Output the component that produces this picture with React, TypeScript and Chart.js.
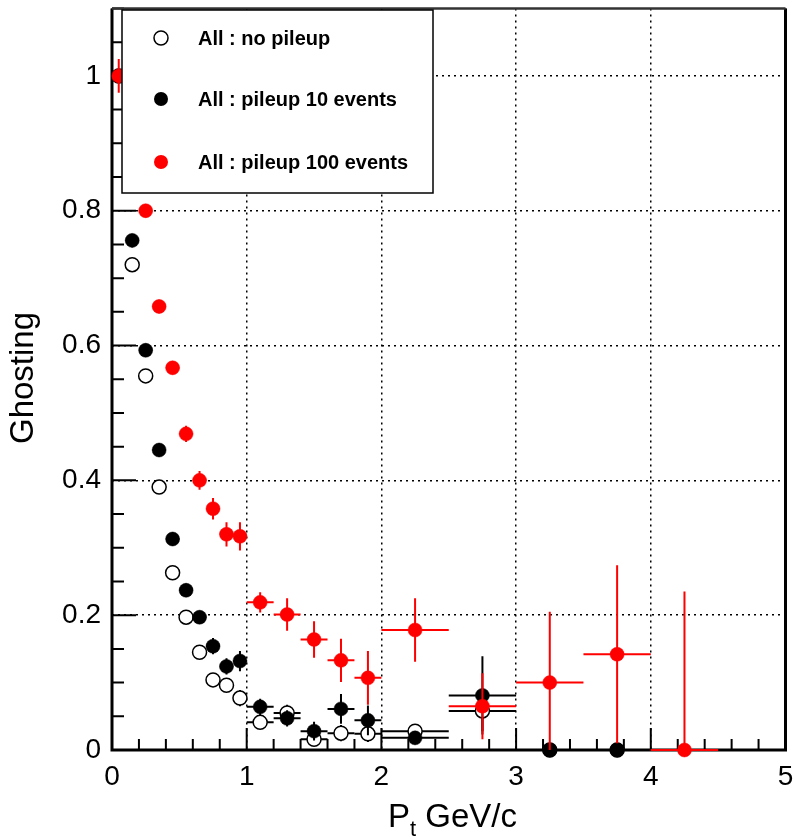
import React, { useEffect, useRef } from "react";
import { Chart, registerables } from "chart.js";

Chart.register(...registerables);

// ---- data ----
const noPileupX = [0.05, 0.15, 0.25, 0.35, 0.45, 0.55, 0.65, 0.75, 0.85, 0.95, 1.1, 1.3, 1.5, 1.7, 1.9, 2.25, 2.75, 3.25, 3.75];
const noPileupY = [1.0, 0.72, 0.555, 0.39, 0.263, 0.197, 0.145, 0.104, 0.096, 0.077, 0.041, 0.055, 0.016, 0.025, 0.024, 0.028, 0.058, 0, 0];
const noPileupXErr = [0.05, 0.05, 0.05, 0.05, 0.05, 0.05, 0.05, 0.05, 0.05, 0.05, 0.1, 0.1, 0.1, 0.1, 0.1, 0.25, 0.25, 0.25, 0.25];
const noPileupYErr = [0.01, 0.01, 0.01, 0.01, 0.01, 0.01, 0.01, 0.01, 0.01, 0.012, 0.01, 0.012, 0.01, 0.012, 0.012, 0.01, 0.03, 0, 0];

const pileup10X = [0.05, 0.15, 0.25, 0.35, 0.45, 0.55, 0.65, 0.75, 0.85, 0.95, 1.1, 1.3, 1.5, 1.7, 1.9, 2.25, 2.75, 3.25, 3.75];
const pileup10Y = [1.0, 0.756, 0.593, 0.445, 0.313, 0.237, 0.197, 0.154, 0.124, 0.132, 0.064, 0.047, 0.028, 0.061, 0.044, 0.018, 0.081, 0, 0];
const pileup10XErr = [0.05, 0.05, 0.05, 0.05, 0.05, 0.05, 0.05, 0.05, 0.05, 0.05, 0.1, 0.1, 0.1, 0.1, 0.1, 0.25, 0.25, 0.25, 0.25];
const pileup10YErr = [0.01, 0.01, 0.01, 0.01, 0.01, 0.01, 0.01, 0.012, 0.012, 0.015, 0.012, 0.012, 0.014, 0.022, 0.022, 0.01, 0.058, 0, 0];

const pileup100X = [0.05, 0.15, 0.25, 0.35, 0.45, 0.55, 0.65, 0.75, 0.85, 0.95, 1.1, 1.3, 1.5, 1.7, 1.9, 2.25, 2.75, 3.25, 3.75, 4.25];
const pileup100Y = [1.0, 0.9, 0.8, 0.658, 0.567, 0.469, 0.4, 0.358, 0.32, 0.317, 0.219, 0.201, 0.164, 0.133, 0.107, 0.178, 0.065, 0.1, 0.142, 0];
const pileup100XErr = [0.05, 0.05, 0.05, 0.05, 0.05, 0.05, 0.05, 0.05, 0.05, 0.05, 0.1, 0.1, 0.1, 0.1, 0.1, 0.25, 0.25, 0.25, 0.25, 0.25];
const pileup100YErr = [0.025, 0.015, 0.01, 0.01, 0.01, 0.012, 0.014, 0.016, 0.018, 0.021, 0.015, 0.024, 0.027, 0.032, 0.04, 0.047, 0.049, 0.105, 0.132, 0.235];

const legendLabels = ["All : no pileup", "All : pileup 10 events", "All : pileup 100 events"];
const xTickValues = [0, 1, 2, 3, 4, 5];
const yTickValues = [0, 0.2, 0.4, 0.6, 0.8, 1];
const yTickLabels = ["0", "0.2", "0.4", "0.6", "0.8", "1"];
const xTitleMain = "P";
const xTitleSub = "t";
const xTitleRest = " GeV/c";
const yTitle = "Ghosting";

const FONT = "'Liberation Sans', Arial, Helvetica, sans-serif";

const errors = [
  { xErr: noPileupXErr, yErr: noPileupYErr, color: "#000000" },
  { xErr: pileup10XErr, yErr: pileup10YErr, color: "#000000" },
  { xErr: pileup100XErr, yErr: pileup100YErr, color: "#ff0000" },
];

const errorBarPlugin = {
  id: "errorBars",
  beforeDatasetDraw(chart: any, args: any) {
    const info = errors[args.index];
    if (!info) return;
    const ds = chart.data.datasets[args.index];
    const { ctx } = chart;
    const xs = chart.scales.x;
    const ys = chart.scales.y;
    ctx.save();
    ctx.strokeStyle = info.color;
    ctx.lineWidth = 2;
    ds.data.forEach((p: any, i: number) => {
      const ex = info.xErr[i];
      const ey = info.yErr[i];
      const px = xs.getPixelForValue(p.x);
      const py = ys.getPixelForValue(p.y);
      ctx.beginPath();
      ctx.moveTo(xs.getPixelForValue(p.x - ex), py);
      ctx.lineTo(xs.getPixelForValue(p.x + ex), py);
      if (ey > 0) {
        ctx.moveTo(px, ys.getPixelForValue(Math.max(0, p.y - ey)));
        ctx.lineTo(px, ys.getPixelForValue(p.y + ey));
      }
      ctx.stroke();
    });
    ctx.restore();
  },
};

const framePlugin = {
  id: "frame",
  beforeDatasetsDraw(chart: any) {
    const { ctx, chartArea } = chart;
    const { left, right, top, bottom } = chartArea;
    const xs = chart.scales.x;
    const ys = chart.scales.y;
    ctx.save();
    ctx.strokeStyle = "#000";
    // ticks inside
    ctx.lineWidth = 2;
    ctx.beginPath();
    for (let k = 0; k <= 25; k++) {
      const v = k * 0.2;
      const px = xs.getPixelForValue(v);
      const len = k % 5 === 0 ? 22 : 11;
      ctx.moveTo(px, bottom);
      ctx.lineTo(px, bottom - len);
    }
    for (let k = 0; k <= 22; k++) {
      const v = k * 0.05;
      const py = ys.getPixelForValue(v);
      const len = k % 4 === 0 ? 24 : 12;
      ctx.moveTo(left, py);
      ctx.lineTo(left + len, py);
    }
    ctx.stroke();
    // frame
    ctx.lineWidth = 3;
    ctx.beginPath();
    ctx.moveTo(left, top);
    ctx.lineTo(left, bottom);
    ctx.lineTo(right, bottom);
    ctx.lineTo(right, top);
    ctx.stroke();
    ctx.lineWidth = 2.5;
    ctx.strokeStyle = "#333";
    ctx.beginPath();
    ctx.moveTo(left, top);
    ctx.lineTo(right, top);
    ctx.stroke();
    ctx.restore();
  },
};

const legendPlugin = {
  id: "rootLegend",
  afterDatasetsDraw(chart: any) {
    const { ctx } = chart;
    const x0 = 122, y0 = 10, x1 = 433, y1 = 193;
    ctx.save();
    ctx.fillStyle = "#fff";
    ctx.fillRect(x0, y0, x1 - x0, y1 - y0);
    ctx.strokeStyle = "#000";
    ctx.lineWidth = 1.5;
    ctx.strokeRect(x0, y0, x1 - x0, y1 - y0);
    const rows = [38, 99, 162];
    const mx = 161;
    rows.forEach((ry, i) => {
      ctx.beginPath();
      ctx.arc(mx, ry, 7, 0, Math.PI * 2);
      if (i === 0) {
        ctx.fillStyle = "#fff";
        ctx.fill();
        ctx.lineWidth = 1.5;
        ctx.strokeStyle = "#000";
        ctx.stroke();
      } else {
        ctx.fillStyle = i === 1 ? "#000" : "#ff0000";
        ctx.fill();
      }
      ctx.fillStyle = "#000";
      ctx.font = `bold 20px ${FONT}`;
      ctx.textBaseline = "middle";
      ctx.textAlign = "left";
      ctx.fillText(legendLabels[i], 198, ry + 1);
    });
    ctx.restore();
  },
};

const titlesPlugin = {
  id: "titles",
  afterDraw(chart: any) {
    const { ctx } = chart;
    ctx.save();
    ctx.fillStyle = "#000";
    ctx.textBaseline = "alphabetic";
    ctx.textAlign = "left";
    // x title
    ctx.font = `33px ${FONT}`;
    const baseY = 827;
    let x = 388;
    ctx.fillText(xTitleMain, x, baseY);
    x += ctx.measureText(xTitleMain).width;
    ctx.font = `22px ${FONT}`;
    ctx.fillText(xTitleSub, x, baseY + 9);
    x += ctx.measureText(xTitleSub).width;
    ctx.font = `33px ${FONT}`;
    ctx.fillText(xTitleRest, x, baseY);
    // y title
    ctx.translate(24, 378);
    ctx.rotate(-Math.PI / 2);
    ctx.textAlign = "center";
    ctx.textBaseline = "middle";
    ctx.font = `33px ${FONT}`;
    ctx.fillText(yTitle, 0, 0);
    ctx.restore();
  },
};

function toPoints(xs: number[], ys: number[]) {
  return xs.map((x, i) => ({ x, y: ys[i] }));
}

export default function App() {
  const ref = useRef<HTMLCanvasElement>(null);
  useEffect(() => {
    document.body.style.margin = "0";
    const chart = new Chart(ref.current as HTMLCanvasElement, {
      type: "scatter",
      data: {
        datasets: [
          {
            label: legendLabels[0],
            data: toPoints(noPileupX, noPileupY),
            pointRadius: 7,
            pointBackgroundColor: "#ffffff",
            pointBorderColor: "#000000",
            pointBorderWidth: 1.5,
            showLine: false,
            clip: false,
            order: 3,
          } as any,
          {
            label: legendLabels[1],
            data: toPoints(pileup10X, pileup10Y),
            pointRadius: 7,
            pointBackgroundColor: "#000000",
            pointBorderColor: "#000000",
            pointBorderWidth: 0.5,
            showLine: false,
            clip: false,
            order: 2,
          } as any,
          {
            label: legendLabels[2],
            data: toPoints(pileup100X, pileup100Y),
            pointRadius: 7,
            pointBackgroundColor: "#ff0000",
            pointBorderColor: "#ff0000",
            pointBorderWidth: 0.5,
            showLine: false,
            clip: false,
            order: 1,
          } as any,
        ],
      },
      options: {
        animation: false,
        responsive: false,
        events: [],
        layout: { padding: { top: 7.5, right: 7.5, left: 0, bottom: 0 } },
        plugins: { legend: { display: false }, tooltip: { enabled: false } },
        scales: {
          x: {
            type: "linear",
            min: 0,
            max: 5,
            afterBuildTicks: (s: any) => {
              s.ticks = xTickValues.map((v) => ({ value: v }));
            },
            afterFit: (s: any) => {
              s.height = 89;
              s.paddingLeft = 0;
              s.paddingRight = 0;
            },
            grid: { color: "#000", lineWidth: 1.5, drawTicks: false },
            border: { display: false, dash: [2, 4] },
            ticks: {
              autoSkip: false,
              maxRotation: 0,
              padding: 10,
              color: "#000",
              font: { family: FONT, size: 28 },
              callback: (v: any) => String(v),
            },
          },
          y: {
            type: "linear",
            min: 0,
            max: 1.1,
            afterBuildTicks: (s: any) => {
              s.ticks = yTickValues.map((v) => ({ value: v }));
            },
            afterFit: (s: any) => {
              s.width = 112;
              s.paddingTop = 0;
              s.paddingBottom = 0;
            },
            grid: { color: "#000", lineWidth: 1.5, drawTicks: false },
            border: { display: false, dash: [2, 4] },
            ticks: {
              autoSkip: false,
              padding: 11,
              color: "#000",
              font: { family: FONT, size: 28 },
              callback: (v: any) => {
                const idx = yTickValues.indexOf(Number(v));
                return idx >= 0 ? yTickLabels[idx] : "";
              },
            },
          },
        },
      },
      plugins: [errorBarPlugin, framePlugin, legendPlugin, titlesPlugin],
    });
    return () => chart.destroy();
  }, []);
  return (
    <div style={{ width: 794, height: 839 }}>
      <canvas ref={ref} width={794} height={839} style={{ display: "block" }} />
    </div>
  );
}
